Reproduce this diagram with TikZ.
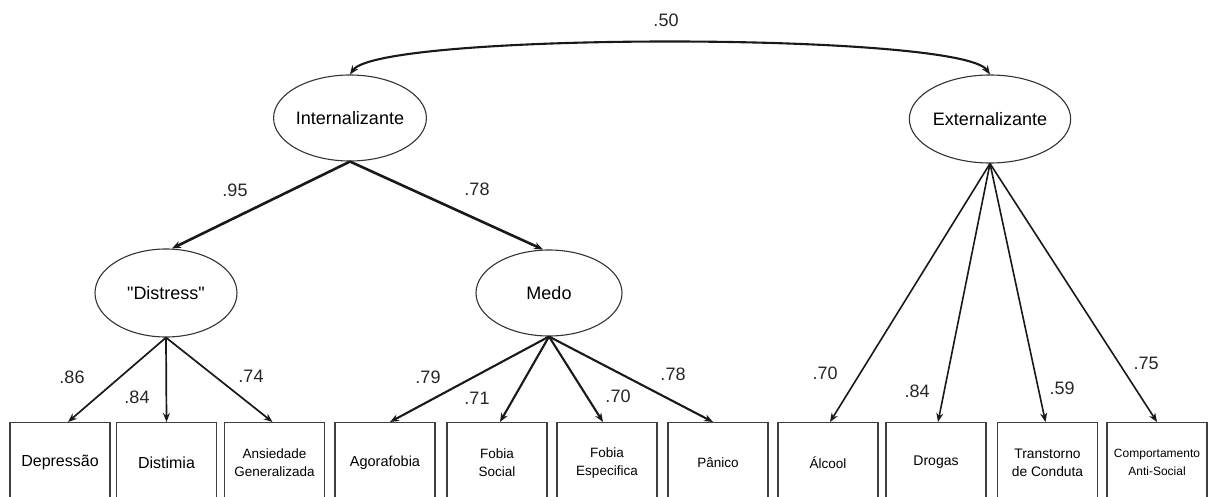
\documentclass[tikz,border=0pt]{standalone}
\usepackage{fontspec}
\setmainfont[Ligatures=TeXOff]{Liberation Sans}
\usetikzlibrary{shapes.geometric,arrows.meta}
\begin{document}
\begin{tikzpicture}[x=1pt,y=-1pt,
  latent/.style={draw=black!80, line width=1.1pt, ellipse, inner sep=0pt, font=\fontsize{18}{21}\selectfont},
  obs/.style={draw=black!75, line width=1.1pt, rectangle, minimum width=100pt, minimum height=80pt, anchor=north, align=center, inner sep=0pt, font=\fontsize{13.5}{18}\selectfont},
  coef/.style={font=\fontsize{18}{20}\selectfont, text=black!85, inner sep=0pt},
  arr/.style={-{Stealth[length=9pt,width=7pt]}, draw=black!90},
  twoarr/.style={{Stealth[length=9pt,width=7pt]}-{Stealth[length=9pt,width=7pt]}, draw=black!90}
]
\useasboundingbox (0,0) rectangle (1209,497);
\clip (0,0) rectangle (1209,497);

% latent variables
\node[latent, minimum width=146pt, minimum height=86pt] (intl) at (350,118) {Internalizante};
\node[latent, minimum width=146pt, minimum height=88pt] (extl) at (990,119) {Externalizante};
\node[latent, minimum width=142pt, minimum height=88pt] (dis) at (166,293) {"Distress"};
\node[latent, minimum width=146pt, minimum height=86pt] (medo) at (549,293) {Medo};

% observed
\node[obs, font=\fontsize{16}{19}\selectfont] (dep) at (60,422) {Depressão};
\node[obs, font=\fontsize{16}{19}\selectfont] (dist) at (166.5,422) {Distimia};
\node[obs] (ans) at (274.5,422) {Ansiedade\\Generalizada};
\node[obs, font=\fontsize{14.5}{18}\selectfont] (ago) at (385,422) {Agorafobia};
\node[obs] (fsoc) at (497,422) {Fobia\\Social};
\node[obs] (fesp) at (607,422) {Fobia\\Especifica};
\node[obs] (pan) at (718,422) {Pânico};
\node[obs] (alc) at (828,422) {Álcool};
\node[obs, font=\fontsize{14}{18}\selectfont] (dro) at (936,422) {Drogas};
\node[obs, font=\fontsize{13.8}{18}\selectfont] (tra) at (1047.5,422) {Transtorno\\de Conduta};
\node[obs, font=\fontsize{12}{18}\selectfont] (com) at (1157,422) {Comportamento\\Anti-Social};

% correlation arc
\draw[twoarr, line width=2.1pt] (intl.north) .. controls (380,32) and (960,32) .. (extl.north);
\node[coef] (l50) at (666,20) {.50};

% second order
\draw[arr, line width=2.6pt] (intl.south) -- ([xshift=6pt]dis.north);
\draw[arr, line width=2.6pt] (intl.south) -- ([xshift=-6pt]medo.north);
\node[coef] (l95) at (235,190) {.95};
\node[coef] (l78a) at (477,189) {.78};

% distress
\draw[arr, line width=1.7pt] (dis.south) -- ([xshift=8pt]dep.north);
\draw[arr, line width=1.7pt] (dis.south) -- (dist.north);
\draw[arr, line width=1.7pt] (dis.south) -- ([xshift=-2pt]ans.north);
\node[coef] (l86) at (72,377) {.86};
\node[coef] (l84a) at (137,397) {.84};
\node[coef] (l74) at (251,376) {.74};

% medo
\draw[arr, line width=2.1pt] (medo.south) -- ([xshift=5pt]ago.north);
\draw[arr, line width=2.1pt] (medo.south) -- ([xshift=3pt]fsoc.north);
\draw[arr, line width=2.1pt] (medo.south) -- ([xshift=-4pt]fesp.north);
\draw[arr, line width=2.1pt] (medo.south) -- ([xshift=-5pt]pan.north);
\node[coef] (l79) at (428,377) {.79};
\node[coef] (l71) at (477,398) {.71};
\node[coef] (l70a) at (618,396) {.70};
\node[coef] (l78b) at (673,374) {.78};

% externalizante
\draw[arr, line width=1.6pt] (extl.south) -- ([xshift=2pt]alc.north);
\draw[arr, line width=1.6pt] (extl.south) -- ([xshift=2pt]dro.north);
\draw[arr, line width=1.6pt] (extl.south) -- ([xshift=-2pt]tra.north);
\draw[arr, line width=1.6pt] (extl.south) -- (com.north);
\node[coef] (l70b) at (825,373) {.70};
\node[coef] (l84b) at (917,391) {.84};
\node[coef] (l59) at (1062,388) {.59};
\node[coef] (l75) at (1146,363) {.75};
\end{tikzpicture}
\end{document}
